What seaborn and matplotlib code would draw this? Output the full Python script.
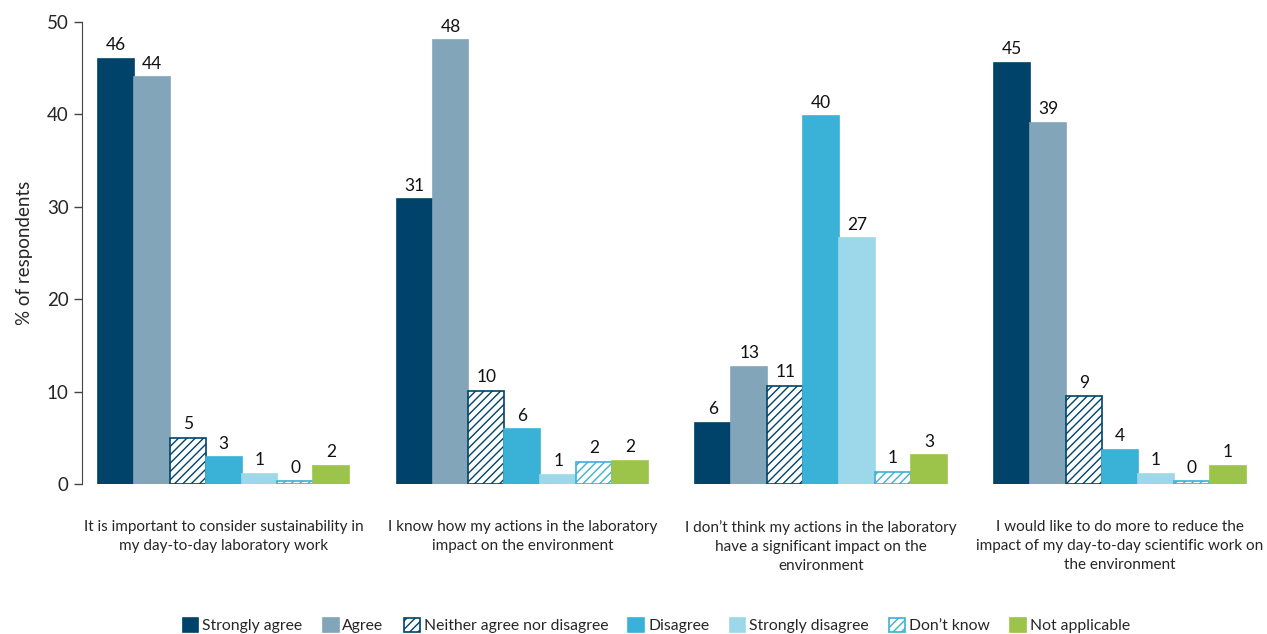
import numpy as np
import pandas as pd
import seaborn as sns
import matplotlib.pyplot as plt

statements = [
    "It is important to consider sustainability in\nmy day-to-day laboratory work",
    "I know how my actions in the laboratory\nimpact on the environment",
    "I don\u2019t think my actions in the laboratory\nhave a significant impact on the\nenvironment",
    "I would like to do more to reduce the\nimpact of my day-to-day scientific work on\nthe environment",
]
responses = ["Strongly agree", "Agree", "Neither agree nor disagree", "Disagree",
             "Strongly disagree", "Don\u2019t know", "Not applicable"]

# bar heights per response (one value per statement)
strongly_agree = [46.0, 30.8, 6.6, 45.6]
agree = [44.0, 48.0, 12.7, 39.1]
neither = [5.0, 10.1, 10.6, 9.5]
disagree = [2.9, 5.9, 39.8, 3.7]
strongly_disagree = [1.1, 1.0, 26.6, 1.1]
dont_know = [0.3, 2.4, 1.3, 0.3]
not_applicable = [1.95, 2.5, 3.1, 1.95]

# printed labels
lab_sa = ["46", "31", "6", "45"]
lab_a = ["44", "48", "13", "39"]
lab_n = ["5", "10", "11", "9"]
lab_d = ["3", "6", "40", "4"]
lab_sd = ["1", "1", "27", "1"]
lab_dk = ["0", "2", "1", "0"]
lab_na = ["2", "2", "3", "1"]

series = [strongly_agree, agree, neither, disagree, strongly_disagree, dont_know, not_applicable]
labels = [lab_sa, lab_a, lab_n, lab_d, lab_sd, lab_dk, lab_na]

colors = ["#00436a", "#82a5b9", "#ffffff", "#3ab1d6", "#9dd8ea", "#ffffff", "#9dc44a"]
edges = ["#00436a", "#82a5b9", "#00436a", "#3ab1d6", "#9dd8ea", "#3ab1d6", "#9dc44a"]
hatches = [None, None, "////", None, None, "////", None]

rows = []
for r, vals in zip(responses, series):
    for s, v in zip(statements, vals):
        rows.append({"statement": s, "response": r, "value": v})
df = pd.DataFrame(rows)

sns.set_style("white")
plt.rcParams["font.family"] = ["Lato", "DejaVu Sans"]
plt.rcParams["hatch.linewidth"] = 1.0

fig = plt.figure(figsize=(12.67, 6.34), dpi=100)
ax = fig.add_axes([0.0647, 0.2366, 0.93, 0.7287])

sns.barplot(data=df, x="statement", y="value", hue="response", hue_order=responses,
            palette=colors, width=0.842, gap=0, saturation=1, ax=ax, legend=False)

for i, cont in enumerate(ax.containers):
    for p in cont.patches:
        p.set_facecolor(colors[i])
        p.set_edgecolor(edges[i])
        p.set_linewidth(1.2)
        if hatches[i]:
            p.set_hatch(hatches[i])
    ax.bar_label(cont, labels=labels[i], padding=4, fontsize=12.5, color="#111111")

ax.set_ylim(0, 50)
ax.set_yticks([0, 10, 20, 30, 40, 50])
ax.set_xlim(-0.474, 3.47)
ax.set_xlabel("")
ax.set_ylabel("% of respondents", fontsize=13.5, labelpad=10)
ax.tick_params(axis="y", labelsize=13.5, length=6, width=1, color="#444444", direction="out", left=True)
ax.tick_params(axis="x", labelsize=11.0, length=0, pad=26)
for lab in ax.get_xticklabels():
    lab.set_multialignment("center")
    lab.set_linespacing(1.45)

sns.despine(ax=ax, top=True, right=True, bottom=True)
ax.spines["left"].set_color("#444444")

handles = [plt.Rectangle((0, 0), 1, 1, facecolor=colors[i], edgecolor=edges[i],
                         hatch=hatches[i], linewidth=1.2) for i in range(len(responses))]
fig.legend(handles, responses, loc="lower center", bbox_to_anchor=(0.518, -0.021), ncol=7,
           frameon=False, fontsize=11.3, handlelength=1.0, handleheight=1.0,
           handletextpad=0.25, columnspacing=1.3)

fig.savefig("out.png", dpi=100)
